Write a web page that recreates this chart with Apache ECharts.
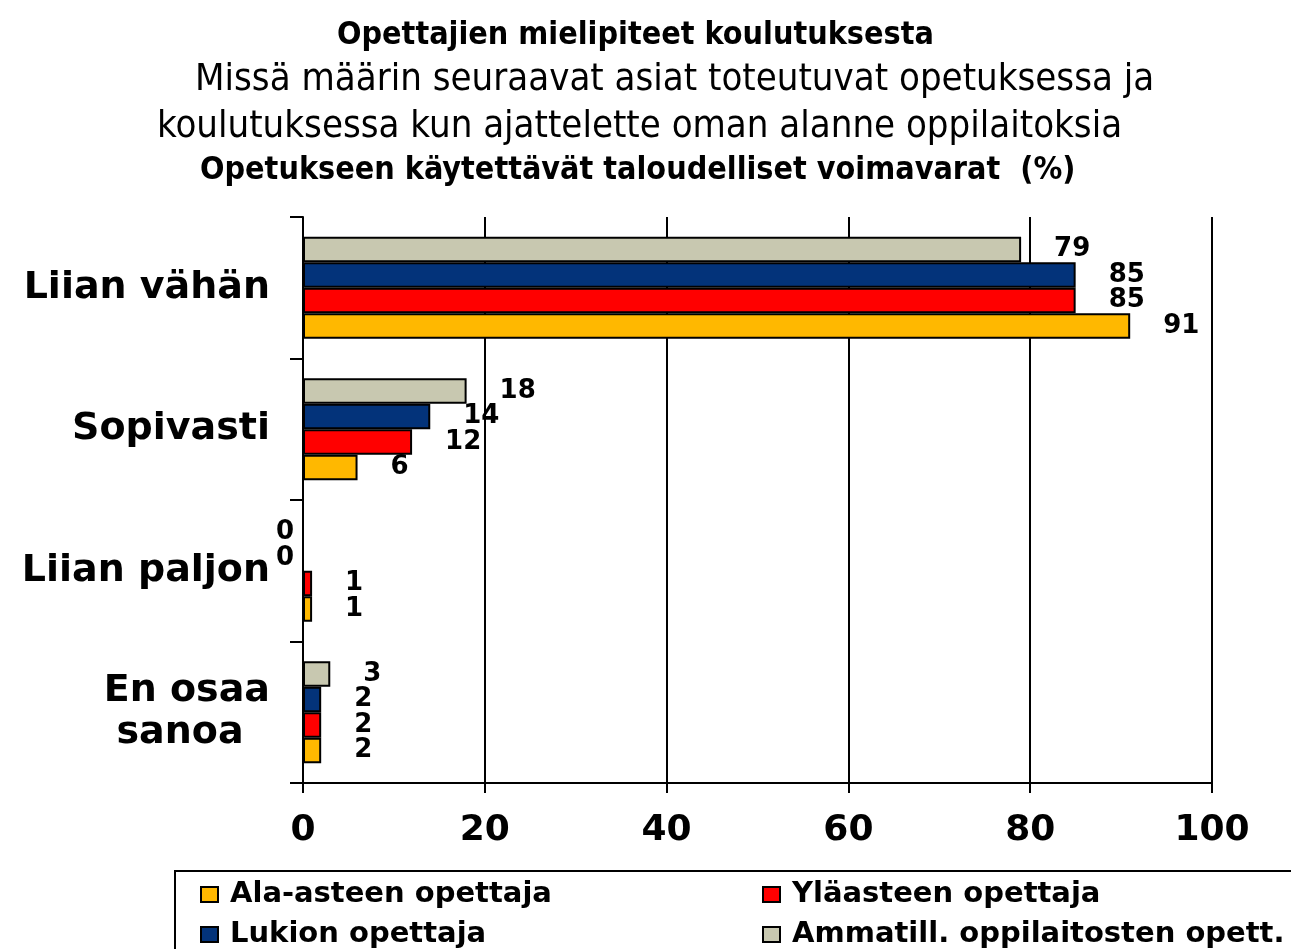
<!DOCTYPE html>
<html>
<head>
<meta charset="utf-8">
<script src="https://cdn.jsdelivr.net/npm/echarts@6/dist/echarts.min.js"></script>
<style>
  html, body { margin: 0; padding: 0; background: #fff; }
  #chart { width: 1291px; height: 949px; }
</style>
</head>
<body>
<div id="chart"></div>
<script>
var categories = ['Liian vähän', 'Sopivasti', 'Liian paljon', 'En osaa\nsanoa  ']
var seriesNames = ['Ala-asteen opettaja', 'Yläasteen opettaja', 'Lukion opettaja', 'Ammatill. oppilaitosten opett.']
var alaAsteen = [91, 6, 1, 2]
var ylaAsteen = [85, 12, 1, 2]
var lukion = [85, 14, 0, 2]
var ammatill = [79, 18, 0, 3]
var xTicks = [0, 20, 40, 60, 80, 100]

var colors = ['#FFB800', '#FF0000', '#03337A', '#C8C8B0']
var BOLD = 'DejaVu Sans'
var titleFont = "'DejaVu Sans Condensed', 'Liberation Sans', sans-serif"

var buildSerie = function (name, values, color) {
    return {
        name: name,
        type: 'bar',
        barGap: '0%',
        barCategoryGap: '28%',
        itemStyle: { color: color, borderColor: '#000', borderWidth: 2 },
        label: {
            show: true,
            position: 'right',
            distance: 33,
            color: '#000',
            fontFamily: BOLD,
            fontWeight: 'bold',
            fontSize: 26
        },
        data: values.map(function (v) {
            // zero bars get their label on the left of the axis
            if (v === 0) {
                return { value: v, label: { position: 'left', distance: 8 } }
            }
            return v
        })
    }
}

var legendItem = function (name, left, top) {
    return {
        data: [name],
        left: left, top: top,
        padding: 0,
        itemWidth: 17, itemHeight: 15, itemTextGap: 13,
        icon: 'rect',
        itemStyle: { borderColor: '#000', borderWidth: 2 },
        textStyle: { fontFamily: BOLD, fontWeight: 'bold', fontSize: 29, color: '#000', padding: [0, 0, 0, 7] }
    }
}

var titleLine = function (text, left, top, bold, size) {
    return {
        text: text,
        left: left, top: top,
        padding: 0,
        textStyle: { fontFamily: titleFont, fontWeight: bold ? 'bold' : 'normal', fontSize: size, color: '#000' }
    }
}

var option = {
    backgroundColor: '#fff',
    animation: false,
    title: [
        titleLine('Opettajien mielipiteet koulutuksesta', 337, 20, true, 32),
        titleLine('Missä määrin seuraavat asiat toteutuvat opetuksessa ja', 195, 61, false, 38),
        titleLine('koulutuksessa kun ajattelette oman alanne oppilaitoksia', 157, 108, false, 38),
        titleLine('Opetukseen käytettävät taloudelliset voimavarat  (%)', 200, 155, true, 32)
    ],
    grid: { left: 303, right: 79, top: 217, bottom: 166 },
    legend: [
        legendItem(seriesNames[0], 200, 880),
        legendItem(seriesNames[1], 762, 880),
        legendItem(seriesNames[2], 200, 920),
        legendItem(seriesNames[3], 762, 920)
    ],
    graphic: [
        {
            type: 'rect',
            shape: { x: 175, y: 871, width: 1140, height: 100 },
            style: { fill: null, stroke: '#000', lineWidth: 2 }
        }
    ],
    xAxis: {
        type: 'value',
        min: xTicks[0],
        max: xTicks[xTicks.length - 1],
        interval: 20,
        axisLine: { show: true, lineStyle: { color: '#000', width: 2 } },
        axisTick: { show: true, length: 10, lineStyle: { color: '#000', width: 2 } },
        splitLine: { show: true, lineStyle: { color: '#000', width: 2 } },
        axisLabel: {
            margin: 30,
            color: '#000',
            fontFamily: BOLD,
            fontWeight: 'bold',
            fontSize: 36
        }
    },
    yAxis: {
        type: 'category',
        inverse: true,
        data: categories,
        axisLine: { show: true, lineStyle: { color: '#000', width: 2 } },
        axisTick: { show: true, length: 13, lineStyle: { color: '#000', width: 2 } },
        axisLabel: {
            margin: 33,
            color: '#000',
            fontFamily: BOLD,
            fontWeight: 'bold',
            fontSize: 38,
            lineHeight: 42
        }
    },
    // series listed bottom-to-top so that the grey bar sits on top of each group
    series: [
        buildSerie(seriesNames[3], ammatill, colors[3]),
        buildSerie(seriesNames[2], lukion, colors[2]),
        buildSerie(seriesNames[1], ylaAsteen, colors[1]),
        buildSerie(seriesNames[0], alaAsteen, colors[0])
    ]
}

echarts.init(document.getElementById('chart')).setOption(option)
</script>
</body>
</html>
